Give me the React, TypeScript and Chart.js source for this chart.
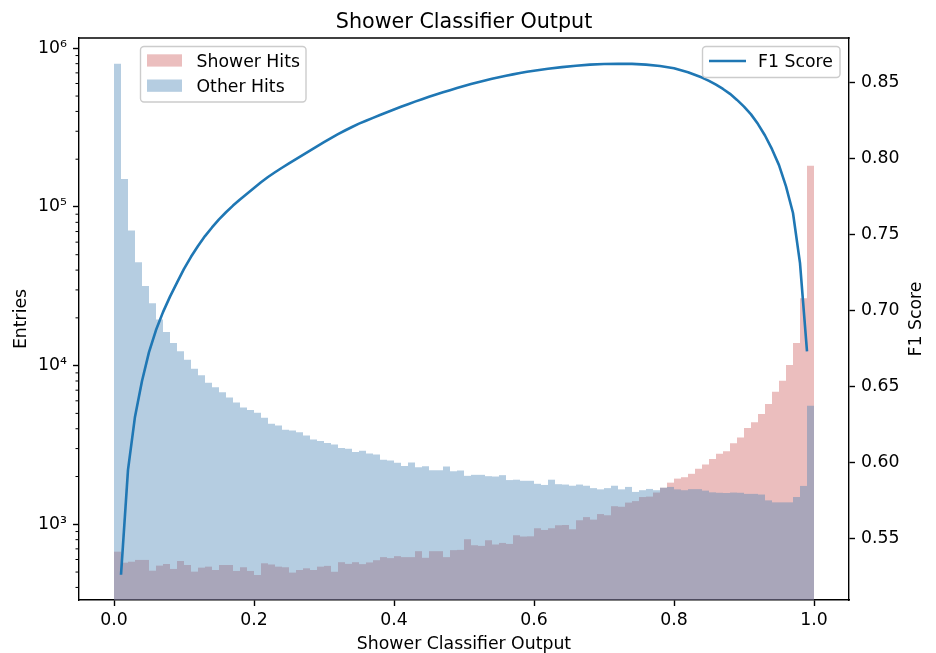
import React, { useEffect, useRef } from 'react';
import { Chart, registerables } from 'chart.js';

Chart.register(...registerables);

// ---------------- data ----------------
const binLow = 0;
const binWidth = 0.01;

const showerHits = [
  672, 573, 581, 596, 596, 510, 549, 562, 523, 587,
  554, 503, 533, 541, 515, 554, 554, 508, 536, 508,
  479, 568, 558, 541, 536, 496, 515, 528, 515, 541,
  547, 502, 577, 563, 577, 561, 575, 594, 621, 612,
  630, 621, 621, 677, 615, 677, 677, 621, 687, 690,
  805, 738, 731, 793, 746, 763, 752, 853, 837, 840,
  944, 921, 944, 986, 990, 930, 1060, 1110, 1070, 1160,
  1140, 1300, 1290, 1370, 1400, 1485, 1495, 1585, 1700, 1830,
  1940, 1980, 2080, 2240, 2380, 2580, 2780, 2890, 3240, 3530,
  4050, 4390, 4950, 5730, 6840, 8020, 10100, 13900, 26600, 182000,
];

const otherHits = [
  800000, 150000, 71000, 44800, 31700, 24700, 19500, 16300, 13900, 12300,
  10900, 9550, 8700, 7800, 7300, 6800, 6300, 5850, 5450, 5250,
  5050, 4700, 4300, 4200, 3950, 3900, 3800, 3630, 3420, 3350,
  3250, 3180, 3030, 2990, 2860, 2910, 2790, 2750, 2550, 2520,
  2440, 2330, 2450, 2290, 2320, 2190, 2190, 2310, 2160, 2180,
  2020, 2050, 2050, 2010, 2000, 2040, 1900, 1910, 1880, 1880,
  1800, 1770, 1910, 1790, 1780, 1750, 1780, 1750, 1690, 1660,
  1690, 1750, 1660, 1720, 1600, 1640, 1670, 1640, 1700, 1720,
  1660, 1640, 1665, 1665, 1630, 1590, 1580, 1575, 1585, 1580,
  1555, 1555, 1540, 1415, 1375, 1375, 1375, 1485, 1745, 5580,
];

const f1Thresholds = [
  0.01, 0.02, 0.03, 0.04, 0.05, 0.06, 0.07, 0.08, 0.09, 0.10,
  0.11, 0.12, 0.13, 0.14, 0.15, 0.16, 0.17, 0.18, 0.19, 0.20,
  0.21, 0.22, 0.23, 0.24, 0.25, 0.26, 0.27, 0.28, 0.29, 0.30,
  0.31, 0.32, 0.33, 0.34, 0.35, 0.36, 0.37, 0.38, 0.39, 0.40,
  0.41, 0.42, 0.43, 0.44, 0.45, 0.46, 0.47, 0.48, 0.49, 0.50,
  0.51, 0.52, 0.53, 0.54, 0.55, 0.56, 0.57, 0.58, 0.59, 0.60,
  0.62, 0.64, 0.66, 0.68, 0.70, 0.72, 0.74, 0.76, 0.78, 0.80,
  0.82, 0.84, 0.85, 0.86, 0.87, 0.88, 0.89, 0.90, 0.91, 0.92,
  0.93, 0.94, 0.95, 0.96, 0.97, 0.98, 0.99,
];

const f1Scores = [
  0.526, 0.595, 0.630, 0.6535, 0.6725, 0.687, 0.6988, 0.709, 0.7182, 0.7272,
  0.7352, 0.7423, 0.7488, 0.7545, 0.7598, 0.7645, 0.7689, 0.7729, 0.7767, 0.7804,
  0.7842, 0.7877, 0.7908, 0.7938, 0.7967, 0.7995, 0.8023, 0.8051, 0.8079, 0.8106,
  0.8133, 0.8159, 0.8183, 0.8206, 0.8228, 0.8247, 0.8266, 0.8285, 0.8303, 0.8321,
  0.8339, 0.8356, 0.8373, 0.8389, 0.8405, 0.8420, 0.8434, 0.8448, 0.8462, 0.8475,
  0.8488, 0.8500, 0.8512, 0.8523, 0.8533, 0.8543, 0.8552, 0.8561, 0.8569, 0.8576,
  0.8589, 0.8600, 0.8609, 0.8616, 0.8620, 0.8622, 0.8621, 0.8616, 0.8607, 0.8592,
  0.8566, 0.8531, 0.8509, 0.8484, 0.8456, 0.8424, 0.8384, 0.8340, 0.8289, 0.8225,
  0.8150, 0.8060, 0.7955, 0.7815, 0.7640, 0.7310, 0.6730,
];

const xTickValues = [0, 0.2, 0.4, 0.6, 0.8, 1.0];
const xTickLabels = ['0.0', '0.2', '0.4', '0.6', '0.8', '1.0'];
const yTickValues = [1e3, 1e4, 1e5, 1e6];
const yTickLabels = ['10³', '10⁴', '10⁵', '10⁶'];
const f1TickValues = [0.55, 0.6, 0.65, 0.7, 0.75, 0.8, 0.85];
const f1TickLabels = ['0.55', '0.60', '0.65', '0.70', '0.75', '0.80', '0.85'];
const minorMultipliers = [2, 3, 4, 5, 6, 7, 8, 9];
const minorDecades = [2, 3, 4, 5, 6];

const titleText = 'Shower Classifier Output';
const xLabelText = 'Shower Classifier Output';
const yLabelText = 'Entries';
const y1LabelText = 'F1 Score';
const showerLabel = 'Shower Hits';
const otherLabel = 'Other Hits';
const f1Label = 'F1 Score';

// ---------------- styles ----------------
const FONT = '"DejaVu Sans"';
const SHOWER_COLOR = 'rgba(205,92,92,0.4)';
const OTHER_COLOR = 'rgba(70,130,180,0.4)';
const LINE_COLOR = '#1f77b4';

function roundRectPath(ctx: CanvasRenderingContext2D, x: number, y: number, w: number, h: number, r: number) {
  ctx.beginPath();
  ctx.moveTo(x + r, y);
  ctx.lineTo(x + w - r, y);
  ctx.arcTo(x + w, y, x + w, y + r, r);
  ctx.lineTo(x + w, y + h - r);
  ctx.arcTo(x + w, y + h, x + w - r, y + h, r);
  ctx.lineTo(x + r, y + h);
  ctx.arcTo(x, y + h, x, y + h - r, r);
  ctx.lineTo(x, y + r);
  ctx.arcTo(x, y, x + r, y, r);
  ctx.closePath();
}

const decorations = {
  id: 'decorations',
  afterDraw(chart: any) {
    const { ctx, chartArea: a, scales } = chart;
    ctx.save();
    // top spine
    ctx.strokeStyle = '#000';
    ctx.lineWidth = 1.4;
    ctx.beginPath();
    ctx.moveTo(a.left - 0.7, a.top);
    ctx.lineTo(a.right + 0.7, a.top);
    ctx.stroke();

    // minor log ticks
    const ys = scales.y;
    ctx.lineWidth = 1.0;
    for (const d of minorDecades) {
      for (const m of minorMultipliers) {
        const v = m * Math.pow(10, d);
        if (v < ys.min || v > ys.max) continue;
        const py = ys.getPixelForValue(v);
        ctx.beginPath();
        ctx.moveTo(a.left, py);
        ctx.lineTo(a.left - 3.5, py);
        ctx.stroke();
      }
    }

    ctx.fillStyle = '#000';
    // title
    ctx.font = `20.7px ${FONT}`;
    ctx.textAlign = 'center';
    ctx.textBaseline = 'alphabetic';
    ctx.fillText(titleText, (a.left + a.right) / 2, 27.6);
    // x label
    ctx.font = `17.3px ${FONT}`;
    ctx.fillText(xLabelText, (a.left + a.right) / 2, 648.5);
    // y labels (both read bottom-to-top)
    const cy = (a.top + a.bottom) / 2;
    ctx.save();
    ctx.translate(26, cy);
    ctx.rotate(-Math.PI / 2);
    ctx.fillText(yLabelText, 0, 0);
    ctx.restore();
    ctx.save();
    ctx.translate(920.5, cy);
    ctx.rotate(-Math.PI / 2);
    ctx.fillText(y1LabelText, 0, 0);
    ctx.restore();

    // left legend
    ctx.textAlign = 'left';
    roundRectPath(ctx, 140.5, 46.5, 165.5, 55.5, 3.5);
    ctx.fillStyle = 'rgba(255,255,255,0.8)';
    ctx.fill();
    ctx.strokeStyle = '#cccccc';
    ctx.lineWidth = 1.4;
    ctx.stroke();
    ctx.fillStyle = SHOWER_COLOR;
    ctx.fillRect(147, 54.3, 35, 12.3);
    ctx.fillStyle = OTHER_COLOR;
    ctx.fillRect(147, 79.5, 35, 12.3);
    ctx.fillStyle = '#000';
    ctx.fillText(showerLabel, 196.5, 67.3);
    ctx.fillText(otherLabel, 196.5, 92.3);

    // right legend
    roundRectPath(ctx, 702.5, 46.5, 137.5, 31, 3.5);
    ctx.fillStyle = 'rgba(255,255,255,0.8)';
    ctx.fill();
    ctx.strokeStyle = '#cccccc';
    ctx.stroke();
    ctx.strokeStyle = LINE_COLOR;
    ctx.lineWidth = 2.6;
    ctx.beginPath();
    ctx.moveTo(709, 61);
    ctx.lineTo(746, 61);
    ctx.stroke();
    ctx.fillStyle = '#000';
    ctx.fillText(f1Label, 758, 67.3);
    ctx.restore();
  },
};

export default function App() {
  const ref = useRef<HTMLCanvasElement>(null);

  useEffect(() => {
    const canvas = ref.current;
    if (!canvas) return;
    const binCenters = showerHits.map((_, i) => binLow + binWidth * (i + 0.5));
    const tickFont = { family: 'DejaVu Sans', size: 17.3 };
    const axisGrid = {
      display: true,
      drawOnChartArea: false,
      drawTicks: true,
      tickLength: 6,
      tickColor: '#000',
      tickWidth: 1.4,
    };
    const axisBorder = { display: true, color: '#000', width: 1.4 };

    const chart = new Chart(canvas, {
      type: 'bar',
      data: {
        datasets: [
          {
            type: 'line',
            label: f1Label,
            data: f1Thresholds.map((t, i) => ({ x: t, y: f1Scores[i] })),
            xAxisID: 'x',
            yAxisID: 'y1',
            borderColor: LINE_COLOR,
            borderWidth: 2.6,
            borderJoinStyle: 'round',
            borderCapStyle: 'butt',
            pointRadius: 0,
            fill: false,
            tension: 0,
            order: 0,
          } as any,
          {
            type: 'bar',
            label: otherLabel,
            data: binCenters.map((x, i) => ({ x, y: otherHits[i] })),
            xAxisID: 'x',
            yAxisID: 'y',
            backgroundColor: OTHER_COLOR,
            borderWidth: 0,
            barPercentage: 1,
            categoryPercentage: 1,
            grouped: false,
            inflateAmount: 0,
            order: 1,
          } as any,
          {
            type: 'bar',
            label: showerLabel,
            data: binCenters.map((x, i) => ({ x, y: showerHits[i] })),
            xAxisID: 'x',
            yAxisID: 'y',
            backgroundColor: SHOWER_COLOR,
            borderWidth: 0,
            barPercentage: 1,
            categoryPercentage: 1,
            grouped: false,
            inflateAmount: 0,
            order: 2,
          } as any,
        ],
      },
      options: {
        animation: false,
        responsive: false,
        maintainAspectRatio: false,
        devicePixelRatio: 1,
        layout: { padding: { top: 38, left: 0, right: 0, bottom: 0 } },
        plugins: {
          legend: { display: false },
          title: { display: false },
          tooltip: { enabled: false },
        },
        scales: {
          x: {
            type: 'linear',
            position: 'bottom',
            min: -0.05,
            max: 1.05,
            bounds: 'data',
            offset: false,
            grid: { ...axisGrid, offset: false },
            border: axisBorder,
            ticks: {
              autoSkip: false,
              maxRotation: 0,
              font: tickFont,
              color: '#000',
              padding: 4,
              callback: (v: any) => {
                const i = xTickValues.findIndex((t) => Math.abs(t - v) < 1e-9);
                return i >= 0 ? xTickLabels[i] : '';
              },
            },
            afterBuildTicks: (s: any) => {
              s.ticks = xTickValues.map((value) => ({ value }));
            },
            afterFit: (s: any) => {
              s.height = 53;
            },
          },
          y: {
            type: 'logarithmic',
            position: 'left',
            min: 333.3,
            max: 1.161e6,
            bounds: 'data',
            grid: axisGrid,
            border: axisBorder,
            ticks: {
              autoSkip: false,
              font: tickFont,
              color: '#000',
              padding: 6,
              callback: (v: any) => {
                const i = yTickValues.findIndex((t) => Math.abs(t - v) < 1e-6 * t);
                return i >= 0 ? yTickLabels[i] : '';
              },
            },
            afterBuildTicks: (s: any) => {
              s.ticks = yTickValues.map((value) => ({ value, major: true }));
            },
            afterFit: (s: any) => {
              s.width = 79;
            },
          },
          y1: {
            type: 'linear',
            position: 'right',
            min: 0.50941,
            max: 0.87914,
            bounds: 'data',
            grid: axisGrid,
            border: axisBorder,
            ticks: {
              autoSkip: false,
              font: tickFont,
              color: '#000',
              padding: 6,
              callback: (v: any) => {
                const i = f1TickValues.findIndex((t) => Math.abs(t - v) < 1e-9);
                return i >= 0 ? f1TickLabels[i] : '';
              },
            },
            afterBuildTicks: (s: any) => {
              s.ticks = f1TickValues.map((value) => ({ value }));
            },
            afterFit: (s: any) => {
              s.width = 87;
            },
          },
        },
      } as any,
      plugins: [decorations],
    });
    return () => chart.destroy();
  }, []);

  return (
    <div style={{ position: 'fixed', left: 0, top: 0, width: 936, height: 653, background: '#fff' }}>
      <canvas ref={ref} width={936} height={653} style={{ display: 'block', width: 936, height: 653 }} />
    </div>
  );
}
